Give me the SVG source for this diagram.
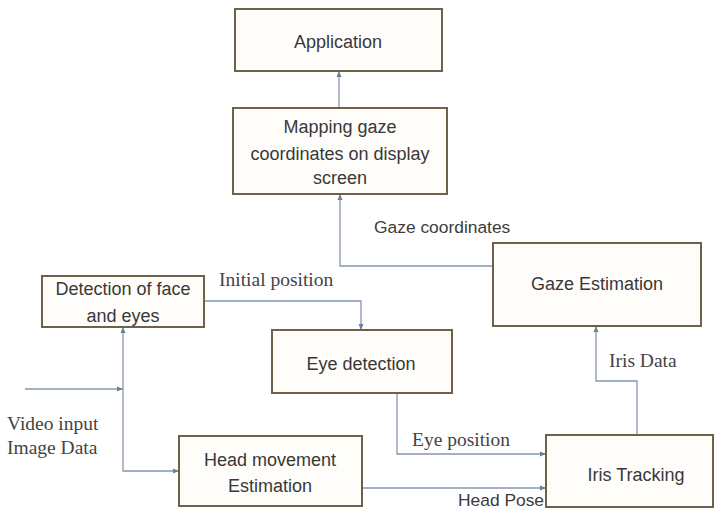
<svg xmlns="http://www.w3.org/2000/svg" width="717" height="509" viewBox="0 0 717 509">
<style>
.box{fill:#fffdfa;stroke:#6e6049;stroke-width:2}
.lbl{font-family:"Liberation Sans",Arial,sans-serif;font-size:18px;fill:#383838;text-anchor:middle}
.sans{font-family:"Liberation Sans",Arial,sans-serif;font-size:17.4px;fill:#3c3c3c}
.serif{font-family:"Liberation Serif","Times New Roman",serif;font-size:19.5px;fill:#444}
.conn{fill:none;stroke:#8597ad;stroke-width:1.3}
</style>
<defs>
<marker id="ah" viewBox="0 0 6 6" refX="6" refY="3" markerWidth="6" markerHeight="6" markerUnits="userSpaceOnUse" orient="auto">
<path d="M0,0.5 L6,3 L0,5.5 Z" fill="#6f7f95"/>
</marker>
</defs>
<rect width="717" height="509" fill="#ffffff"/>
<g id="connectors">
<path class="conn" d="M339,108 V71" marker-end="url(#ah)"/>
<path class="conn" d="M493,266 H340 V194" marker-end="url(#ah)"/>
<path class="conn" d="M204,301 H361 V330" marker-end="url(#ah)"/>
<path class="conn" d="M25,389 H123" marker-end="url(#ah)"/>
<path class="conn" d="M123,389 V327" marker-end="url(#ah)"/>
<path class="conn" d="M123,389 V471 H179" marker-end="url(#ah)"/>
<path class="conn" d="M397,393 V454 H546" marker-end="url(#ah)"/>
<path class="conn" d="M362,488 H546" marker-end="url(#ah)"/>
<path class="conn" d="M637,435 V381 H596 V326" marker-end="url(#ah)"/>
<text class="sans" x="374" y="233">Gaze coordinates</text>
<text class="serif" x="219" y="286">Initial position</text>
<text class="serif" x="609" y="367">Iris Data</text>
<text class="serif" x="412" y="446">Eye position</text>
<text class="serif" x="7" y="430">Video input</text>
<text class="serif" x="7" y="454">Image Data</text>
<text class="sans" x="458" y="506" font-size="16.6">Head Pose</text>
</g>
<g id="application">
<rect class="box" x="235" y="9" width="207" height="62"/>
<text class="lbl" x="338" y="48">Application</text>
</g>
<g id="mapping">
<rect class="box" x="233" y="108" width="214" height="86"/>
<text class="lbl" x="340" y="133">Mapping gaze</text>
<text class="lbl" x="340" y="160">coordinates on display</text>
<text class="lbl" x="340" y="184">screen</text>
</g>
<g id="gaze-estimation">
<rect class="box" x="493" y="243" width="208" height="83"/>
<text class="lbl" x="597" y="290" font-size="17.4">Gaze Estimation</text>
</g>
<g id="detection">
<rect class="box" x="42" y="276" width="162" height="51"/>
<text class="lbl" x="123" y="295">Detection of face</text>
<text class="lbl" x="123" y="322">and eyes</text>
</g>
<g id="eye-detection">
<rect class="box" x="272" y="330" width="180" height="63"/>
<text class="lbl" x="361" y="370">Eye detection</text>
</g>
<g id="head-movement">
<rect class="box" x="179" y="436" width="183" height="70"/>
<text class="lbl" x="270" y="466">Head movement</text>
<text class="lbl" x="270" y="492">Estimation</text>
</g>
<g id="iris-tracking">
<rect class="box" x="546" y="435" width="167" height="72"/>
<text class="lbl" x="636" y="481" font-size="17.2">Iris Tracking</text>
</g>
</svg>
